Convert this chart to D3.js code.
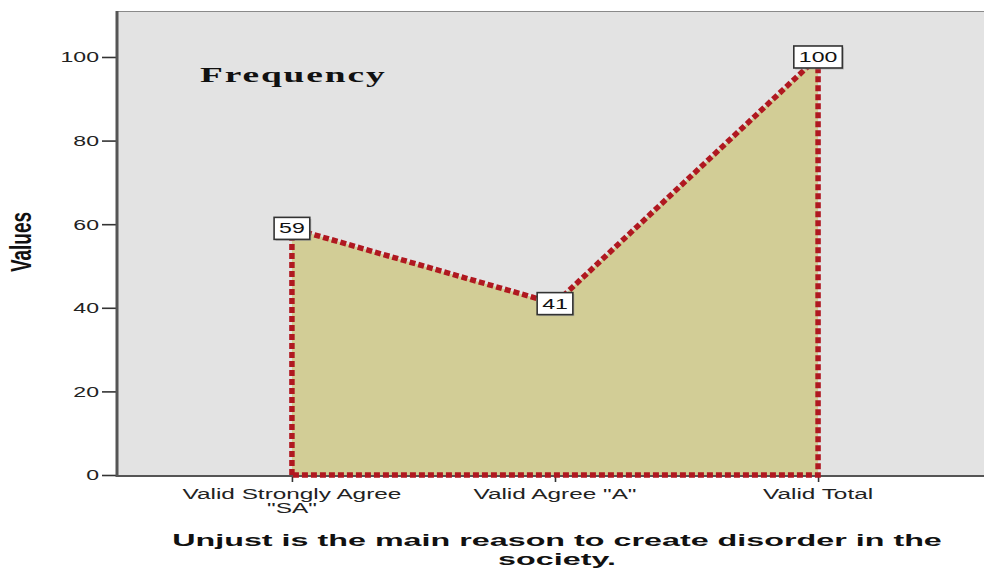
<!DOCTYPE html>
<html>
<head>
<meta charset="utf-8">
<script src="https://cdn.jsdelivr.net/npm/d3@7"></script>
<style>
  html, body { margin: 0; padding: 0; background: #ffffff; }
  svg { display: block; }
</style>
</head>
<body>
<svg id="chart" width="984" height="570"></svg>
<script>
// ---- data ----
const categories = ["Valid Strongly Agree \"SA\"", "Valid Agree \"A\"", "Valid Total"];
const categoryLines = [["Valid Strongly Agree", "\"SA\""], ["Valid Agree \"A\""], ["Valid Total"]];
const values = [59, 41, 100];
const yTicks = [0, 20, 40, 60, 80, 100];
const legendLabel = "Frequency";
const yTitle = "Values";
const xTitleLines = ["Unjust is the main reason to create disorder in the", "society."];

// ---- layout ----
const W = 984, H = 570;
const plot = { left: 117, right: 993, top: 11, bottom: 475 };
const sx = 1.65; // horizontal text stretch seen in the reference
const sxCat = 1.74;

const svg = d3.select("#chart");

const x = d3.scalePoint().domain(categories).range([plot.left, plot.right]).padding(0.665);
const y = d3.scaleLinear().domain([0, 111]).range([plot.bottom, plot.top]);

// plot background
svg.append("rect")
  .attr("x", plot.left).attr("y", plot.top)
  .attr("width", W - plot.left).attr("height", plot.bottom - plot.top)
  .attr("fill", "#e3e3e3");
svg.append("line")
  .attr("x1", plot.left).attr("x2", W).attr("y1", plot.top + 0.5).attr("y2", plot.top + 0.5)
  .attr("stroke", "#8a8a8a").attr("stroke-width", 1);

// area + dotted outline (closed polygon)
const pts = categories.map((c, i) => [x(c), y(values[i])]);
const outline = [
  [x(categories[0]), y(0)],
  ...pts,
  [x(categories[categories.length - 1]), y(0)]
];
svg.append("path")
  .attr("d", d3.line()(outline) + "Z")
  .attr("fill", "#d2cd96")
  .attr("stroke", "none");

// axes
const yAxis = svg.append("g")
  .attr("transform", `translate(${plot.left},0)`)
  .call(d3.axisLeft(y).tickValues(yTicks).tickSize(15).tickPadding(3).tickFormat(d3.format("d")));
yAxis.select(".domain").remove();
yAxis.selectAll(".tick line").attr("stroke", "#333").attr("stroke-width", 1.6);
yAxis.selectAll(".tick text")
  .attr("x", 0).attr("dy", "0.35em")
  .attr("transform", `translate(-18,0) scale(${sx},1)`)
  .attr("font-family", "Liberation Sans, Arial, sans-serif")
  .attr("font-size", 14).attr("fill", "#222");

const xAxis = svg.append("g")
  .attr("transform", `translate(0,${plot.bottom + 1})`)
  .call(d3.axisBottom(x).tickSize(6).tickFormat(""));
xAxis.select(".domain").remove();
xAxis.selectAll(".tick line").attr("stroke", "#333").attr("stroke-width", 1.6);

// axis lines
svg.append("line")
  .attr("x1", plot.left).attr("x2", W).attr("y1", plot.bottom + 1).attr("y2", plot.bottom + 1)
  .attr("stroke", "#555").attr("stroke-width", 2);
svg.append("line")
  .attr("x1", plot.left).attr("x2", plot.left).attr("y1", plot.top).attr("y2", plot.bottom + 2)
  .attr("stroke", "#555").attr("stroke-width", 3);

// dotted outline on top
svg.append("path")
  .attr("d", d3.line()(outline) + "Z")
  .attr("fill", "none")
  .attr("stroke", "#b01820")
  .attr("stroke-width", 5.5)
  .attr("stroke-dasharray", "6,3");

// x category labels
categories.forEach((c, i) => {
  categoryLines[i].forEach((ln, j) => {
    svg.append("text")
      .attr("transform", `translate(${x(c)},${plot.bottom + 24 + j * 14}) scale(${sxCat},1)`)
      .attr("text-anchor", "middle")
      .attr("font-family", "Liberation Sans, Arial, sans-serif")
      .attr("font-size", 14).attr("fill", "#222")
      .text(ln);
  });
});

// value labels
categories.forEach((c, i) => {
  const g = svg.append("g").attr("transform", `translate(${x(c)},${y(values[i])})`);
  g.append("rect")
    .attr("class", "shadow");
  const t = g.append("text")
    .attr("transform", `scale(${sx},1)`)
    .attr("text-anchor", "middle").attr("dy", "0.36em")
    .attr("font-family", "Liberation Sans, Arial, sans-serif")
    .attr("font-size", 14).attr("fill", "#111")
    .text(values[i]);
  const w = t.node().getComputedTextLength() * sx + 10;
  g.select("rect.shadow")
    .attr("x", -w / 2 + 1.5).attr("y", -9.5).attr("width", w).attr("height", 22)
    .attr("fill", "#9a9a9a").attr("opacity", 0.6);
  g.insert("rect", "text")
    .attr("x", -w / 2).attr("y", -11).attr("width", w).attr("height", 22)
    .attr("fill", "#fff").attr("stroke", "#333").attr("stroke-width", 1.6);
});

// legend-like label
svg.append("text")
  .attr("transform", `translate(200,82) scale(1.7,1)`)
  .attr("font-family", "Liberation Serif, Times New Roman, serif")
  .attr("font-weight", "bold").attr("font-size", 22).attr("letter-spacing", 1.1)
  .attr("fill", "#111")
  .text(legendLabel);

// y title
svg.append("text")
  .attr("transform", `translate(31,242) scale(1.55,1) rotate(-90)`)
  .attr("text-anchor", "middle")
  .attr("font-family", "Liberation Sans, Arial, sans-serif")
  .attr("font-weight", "bold").attr("font-size", 19).attr("fill", "#111")
  .text(yTitle);

// x title
xTitleLines.forEach((ln, j) => {
  svg.append("text")
    .attr("transform", `translate(557,${546 + j * 19}) scale(1.9,1)`)
    .attr("text-anchor", "middle")
    .attr("font-family", "Liberation Sans, Arial, sans-serif")
    .attr("font-weight", "bold").attr("font-size", 17).attr("fill", "#111")
    .text(ln);
});
</script>
</body>
</html>
